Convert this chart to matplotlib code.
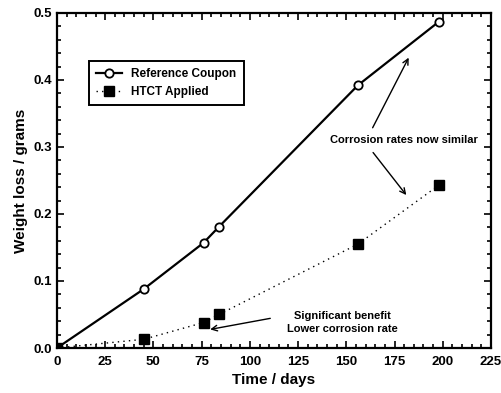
import matplotlib.pyplot as plt
from matplotlib.ticker import MultipleLocator

plt.rcParams['font.family'] = ['Liberation Sans', 'DejaVu Sans']

# data
days = [0, 45, 76, 84, 156, 198]
ref_loss = [0.0, 0.088, 0.157, 0.181, 0.392, 0.487]
htct_loss = [0.0, 0.013, 0.038, 0.050, 0.155, 0.243]

fig = plt.figure(figsize=(5.02, 3.93), dpi=100)
ax = fig.add_axes([0.1135, 0.1145, 0.8645, 0.8525])

ax.plot(days, ref_loss, color='black', lw=1.6, marker='o', ms=6,
        mfc='white', mec='black', mew=1.3, label='Reference Coupon')
ax.plot(days, htct_loss, color='black', lw=1.0, ls=(0, (1, 3)), marker='s', ms=7,
        mfc='black', mec='black', label='HTCT Applied')

ax.set_xlim(0, 225)
ax.set_ylim(0, 0.5)
ax.xaxis.set_major_locator(MultipleLocator(25))
ax.xaxis.set_minor_locator(MultipleLocator(5))
ax.yaxis.set_major_locator(MultipleLocator(0.1))
ax.yaxis.set_minor_locator(MultipleLocator(0.02))
ax.yaxis.set_major_formatter(plt.FormatStrFormatter('%.1f'))
ax.tick_params(which='both', direction='in', top=True, right=True, width=1.2)
ax.tick_params(which='major', length=5, labelsize=9.5)
ax.tick_params(axis='x', which='major', pad=6)
ax.tick_params(which='minor', length=3)
for lbl in ax.get_xticklabels() + ax.get_yticklabels():
    lbl.set_fontweight('bold')
for s in ax.spines.values():
    s.set_linewidth(1.6)

ax.set_xlabel('Time / days', fontsize=11, fontweight='bold', labelpad=3)
ax.set_ylabel('Weight loss / grams', fontsize=11, fontweight='bold')

leg = ax.legend(loc='upper left', bbox_to_anchor=(0.06, 0.875), fancybox=False,
                edgecolor='black', framealpha=1, borderpad=0.6,
                handlelength=2.2, prop={'weight': 'bold', 'size': 8.5})
leg.get_frame().set_linewidth(1.4)

ax.text(180, 0.31, 'Corrosion rates now similar', ha='center', va='center',
        fontsize=8, fontweight='bold')
ax.annotate('', xy=(183, 0.437), xytext=(163, 0.325),
            arrowprops=dict(arrowstyle='->', color='black', lw=1.0))
ax.annotate('', xy=(182, 0.225), xytext=(163, 0.295),
            arrowprops=dict(arrowstyle='->', color='black', lw=1.0))

ax.text(148, 0.038, 'Significant benefit\nLower corrosion rate', ha='center',
        va='center', fontsize=8, fontweight='bold', linespacing=1.3)
ax.annotate('', xy=(78, 0.027), xytext=(112, 0.045),
            arrowprops=dict(arrowstyle='->', color='black', lw=1.0))

fig.savefig('out.png', dpi=100)
